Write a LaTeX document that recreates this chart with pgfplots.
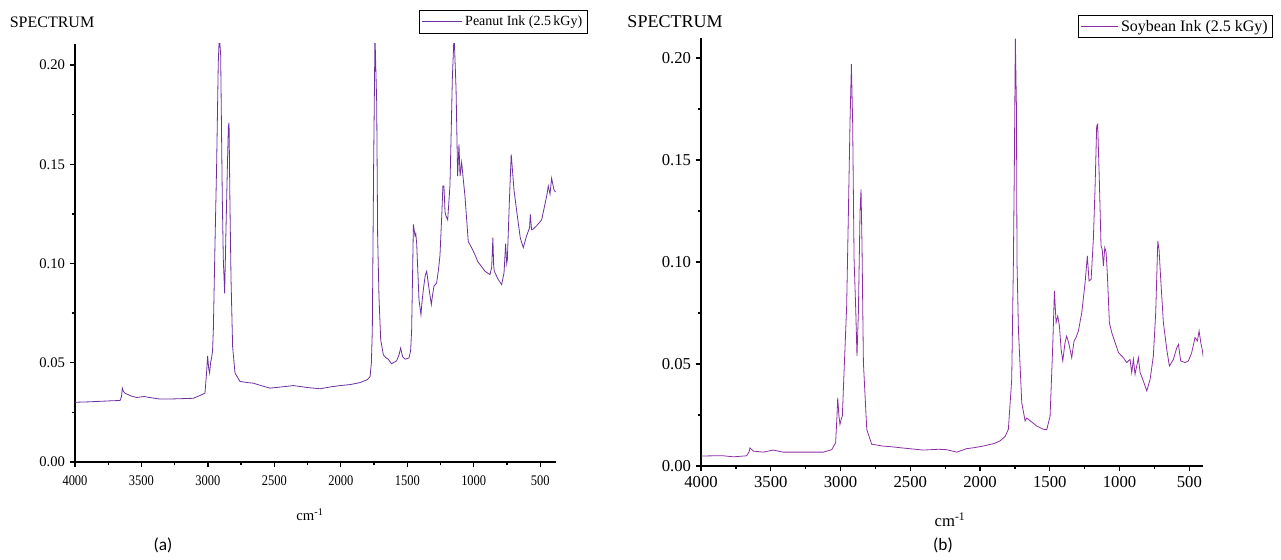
\documentclass[border=0pt]{standalone}
\usepackage{pgfplots}
\pgfplotsset{compat=1.18}
\usepackage{fontspec}
\setmainfont{Liberation Serif}
\newfontfamily\capfont{Carlito}
\definecolor{peanut}{RGB}{108,48,160}
\definecolor{soy}{RGB}{140,45,165}
\begin{document}
\begin{tikzpicture}
\useasboundingbox (0,0) rectangle (960.75pt,420pt);
% ---------------- (a) Peanut ink ----------------
\begin{axis}[
  at={(56.25pt,73.5pt)}, anchor=south west,
  scale only axis, width=360.75pt, height=313.5pt,
  x dir=reverse, xmin=381, xmax=4000, ymin=0, ymax=0.2106,
  axis x line*=bottom, axis y line*=left,
  axis line style={line width=1.5pt},
  tick style={line width=1pt, black},
  tick align=outside,
  major tick length=4pt, minor tick length=2.5pt,
  xtick={4000,3500,3000,2500,2000,1500,1000,500},
  minor x tick num=1,
  ytick={0,0.05,0.10,0.15,0.20},
  minor y tick num=1,
  /pgf/number format/assume math mode=true,
  x tick label style={/pgf/number format/1000 sep={}, font=\rmfamily\fontsize{11}{13}\selectfont, xscale=0.85, yshift=-3pt},
  y tick label style={/pgf/number format/.cd, fixed, fixed zerofill, precision=2, /tikz/.cd, font=\rmfamily\fontsize{11}{13}\selectfont},
  legend style={at={(1.0665,1.081)}, anchor=north east, draw=black, line width=0.6pt,
    font=\fontsize{10.5}{12}\selectfont, inner sep=2pt, row sep=0pt},
  legend cell align=left,
  legend image code/.code={\draw[#1] (0pt,0pt) -- (30pt,0pt);},
]
\addplot[color=peanut, line width=0.6pt] coordinates {
(4000,0.0301) (3900,0.0303) (3800,0.0306) (3737,0.0308) (3661,0.0310) (3650,0.0330) (3644,0.0372) (3635,0.0355) (3624,0.0347) (3580,0.0333) (3536,0.0325) (3480,0.0330) (3440,0.0325) (3360,0.0317) (3250,0.0318) (3110,0.0321) (3060,0.0335) (3022,0.0347) (3010,0.0450) (3002,0.0535) (2994,0.0470) (2987,0.0448) (2980,0.0500) (2972,0.0525) (2965,0.0560) (2959,0.0667) (2947,0.1088) (2934,0.1508) (2922,0.2013) (2914,0.2150) (2904,0.2050) (2892,0.1340) (2884,0.1020) (2874,0.0850) (2864,0.1170) (2853,0.1500) (2846,0.1690) (2841,0.1710) (2834,0.1290) (2826,0.0920) (2814,0.0580) (2796,0.0448) (2759,0.0406) (2700,0.0400) (2658,0.0397) (2600,0.0385) (2533,0.0372) (2450,0.0378) (2357,0.0385) (2250,0.0375) (2157,0.0369) (2080,0.0378) (2006,0.0385) (1930,0.0390) (1856,0.0400) (1800,0.0415) (1780,0.0430) (1770,0.0500) (1763,0.0667) (1753,0.1500) (1743,0.2150) (1730,0.1810) (1723,0.1140) (1713,0.0835) (1700,0.0616) (1680,0.0540) (1660,0.0525) (1643,0.0518) (1618,0.0495) (1580,0.0510) (1562,0.0540) (1550,0.0574) (1535,0.0530) (1517,0.0518) (1487,0.0524) (1475,0.0560) (1467,0.0667) (1460,0.0950) (1454,0.1197) (1442,0.1140) (1436,0.1150) (1429,0.1100) (1412,0.0818) (1397,0.0742) (1390,0.0800) (1379,0.0869) (1365,0.0940) (1354,0.0961) (1339,0.0886) (1319,0.0793) (1310,0.0840) (1299,0.0886) (1279,0.0902) (1265,0.0970) (1254,0.1040) (1240,0.1250) (1232,0.1390) (1224,0.1390) (1216,0.1260) (1209,0.1240) (1196,0.1220) (1179,0.1390) (1170,0.1650) (1161,0.1930) (1150,0.2120) (1146,0.2120) (1133,0.1880) (1121,0.1440) (1111,0.1600) (1103,0.1440) (1091,0.1510) (1081,0.1440) (1066,0.1340) (1041,0.1110) (1016,0.1080) (991,0.1045) (970,0.1010) (953,0.0995) (915,0.0961) (878,0.0944) (865,0.0980) (856,0.1130) (850,0.0990) (845,0.0960) (815,0.0919) (790,0.0894) (772,0.0953) (760,0.1100) (752,0.1000) (747,0.1020) (732,0.1310) (718,0.1550) (712,0.1500) (697,0.1370) (672,0.1240) (650,0.1130) (627,0.1080) (602,0.1140) (580,0.1180) (574,0.1247) (565,0.1170) (559,0.1170) (527,0.1190) (489,0.1220) (451,0.1340) (439,0.1390) (426,0.1350) (414,0.1430) (396,0.1370) (384,0.1360)
};
\addlegendentry{Peanut Ink (2.5\,kGy)}
\end{axis}
% ---------------- (b) Soybean ink ----------------
\begin{axis}[
  at={(525.75pt,70.5pt)}, anchor=south west,
  scale only axis, width=376.5pt, height=321pt,
  x dir=reverse, xmin=402, xmax=4000, ymin=0, ymax=0.2098,
  axis x line*=bottom, axis y line*=left,
  axis line style={line width=1.5pt},
  tick style={line width=1pt, black},
  tick align=outside,
  major tick length=4pt, minor tick length=2.5pt,
  xtick={4000,3500,3000,2500,2000,1500,1000,500},
  minor x tick num=1,
  ytick={0,0.05,0.10,0.15,0.20},
  minor y tick num=1,
  /pgf/number format/assume math mode=true,
  x tick label style={/pgf/number format/1000 sep={}, font=\rmfamily\fontsize{12.5}{14}\selectfont},
  y tick label style={/pgf/number format/.cd, fixed, fixed zerofill, precision=2, /tikz/.cd, font=\rmfamily\fontsize{12.5}{14}\selectfont},
  legend style={at={(1.139,1.054)}, anchor=north east, draw=black, line width=0.6pt,
    font=\fontsize{12}{13}\selectfont, inner sep=1.5pt, row sep=0pt},
  legend cell align=left,
  legend image code/.code={\draw[#1] (0pt,0pt) -- (28pt,0pt);},
]
\addplot[color=soy, line width=0.6pt] coordinates {
(4000,0.0049) (3900,0.0050) (3840,0.0050) (3768,0.0045) (3673,0.0050) (3655,0.0070) (3649,0.0089) (3625,0.0073) (3553,0.0068) (3482,0.0078) (3410,0.0068) (3300,0.0068) (3123,0.0068) (3063,0.0080) (3035,0.0114) (3025,0.0250) (3020,0.0335) (3012,0.0250) (3004,0.0204) (2995,0.0230) (2987,0.0245) (2973,0.0490) (2956,0.0784) (2944,0.1225) (2932,0.1683) (2922,0.1970) (2913,0.1680) (2903,0.1017) (2891,0.0768) (2882,0.0539) (2872,0.0752) (2860,0.1250) (2853,0.1356) (2846,0.1080) (2836,0.0507) (2812,0.0180) (2777,0.0107) (2700,0.0098) (2645,0.0095) (2550,0.0088) (2406,0.0078) (2300,0.0082) (2239,0.0080) (2190,0.0072) (2167,0.0068) (2096,0.0085) (2040,0.0090) (1976,0.0098) (1900,0.0110) (1857,0.0123) (1820,0.0145) (1797,0.0180) (1773,0.0425) (1761,0.0997) (1754,0.1487) (1747,0.2095) (1739,0.1749) (1735,0.0997) (1725,0.0670) (1701,0.0310) (1677,0.0221) (1665,0.0235) (1654,0.0229) (1630,0.0216) (1594,0.0196) (1546,0.0180) (1522,0.0178) (1498,0.0245) (1479,0.0589) (1467,0.0858) (1455,0.0703) (1443,0.0735) (1431,0.0686) (1419,0.0572) (1407,0.0515) (1391,0.0605) (1379,0.0637) (1362,0.0596) (1343,0.0531) (1326,0.0613) (1312,0.0630) (1295,0.0662) (1271,0.0752) (1247,0.0899) (1231,0.1030) (1219,0.0907) (1204,0.0915) (1188,0.1110) (1176,0.1356) (1164,0.1667) (1157,0.1675) (1145,0.1400) (1133,0.1080) (1124,0.1060) (1116,0.0980) (1106,0.1070) (1097,0.1050) (1088,0.0948) (1073,0.0703) (1056,0.0654) (1032,0.0605) (1008,0.0556) (973,0.0531) (949,0.0507) (925,0.0523) (913,0.0458) (901,0.0523) (889,0.0450) (865,0.0531) (853,0.0458) (834,0.0425) (805,0.0368) (781,0.0425) (758,0.0539) (741,0.0752) (726,0.1103) (717,0.1060) (705,0.0915) (686,0.0703) (662,0.0572) (643,0.0490) (614,0.0523) (590,0.0580) (578,0.0596) (562,0.0515) (530,0.0507) (507,0.0515) (483,0.0556) (459,0.0630) (442,0.0613) (430,0.0662) (418,0.0605) (406,0.0564) (399,0.0531)
};
\addlegendentry{Soybean Ink (2.5 kGy)}
\end{axis}
% ---------------- free texts ----------------
\node[font=\fontsize{12}{14}\selectfont] at (39pt,403.5pt) {SPECTRUM};
\node[font=\fontsize{13.5}{15}\selectfont] at (506.25pt,403.5pt) {SPECTRUM};
\node[font=\fontsize{11}{13}\selectfont] at (232.5pt,33.75pt) {cm\textsuperscript{-1}};
\node[font=\fontsize{12.5}{14}\selectfont] at (712.5pt,30pt) {cm\textsuperscript{-1}};
\node[font=\capfont\fontsize{13}{15}\selectfont] at (122.25pt,11.25pt) {(a)};
\node[font=\capfont\fontsize{13}{15}\selectfont] at (707.25pt,11.25pt) {(b)};
\end{tikzpicture}
\end{document}
